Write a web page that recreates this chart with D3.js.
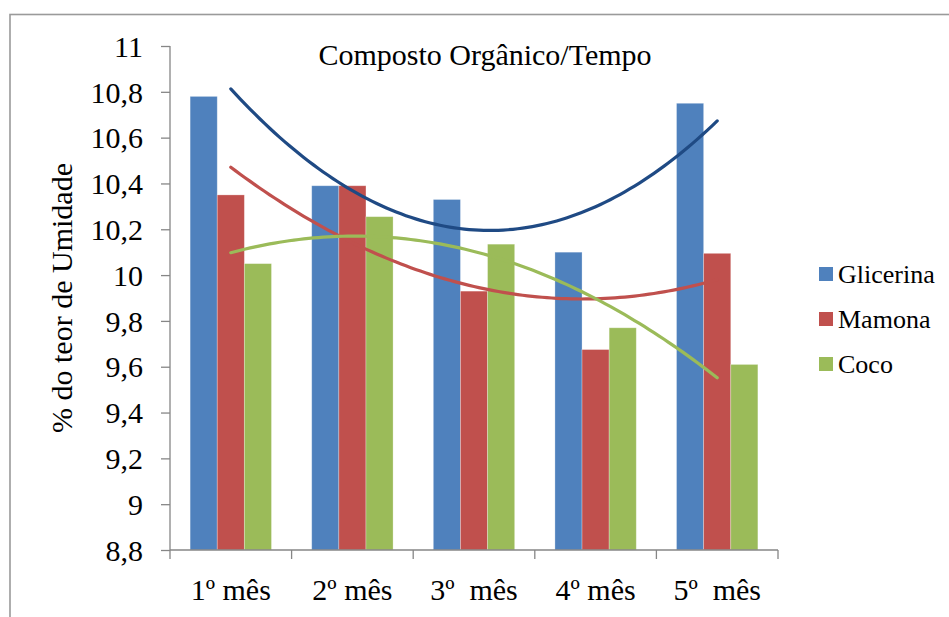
<!DOCTYPE html>
<html>
<head>
<meta charset="utf-8">
<script src="https://cdn.jsdelivr.net/npm/d3@7"></script>
<style>
  html, body { margin: 0; padding: 0; background: #fff; }
  svg { display: block; }
  svg text { font-family: 'Liberation Serif', Tinos, 'Times New Roman', 'DejaVu Serif', 'Noto Serif', serif !important; fill: #000; white-space: pre; }
</style>
</head>
<body>
<svg id="chart" width="949" height="617"></svg>
<script>
// ---- data ----
const categories = ["1º mês", "2º mês", "3º  mês", "4º mês", "5º  mês"];
const seriesNames = ["Glicerina", "Mamona", "Coco"];
const glicerina = [10.78, 10.39, 10.33, 10.10, 10.75];
const mamona = [10.35, 10.39, 9.93, 9.675, 10.095];
const coco = [10.05, 10.255, 10.135, 9.77, 9.61];
const yTicks = [8.8, 9, 9.2, 9.4, 9.6, 9.8, 10, 10.2, 10.4, 10.6, 10.8, 11];
const title = "Composto Orgânico/Tempo";
const yLabel = "% do teor de Umidade";

const seriesValues = [glicerina, mamona, coco];
const barColors = ["#4F81BD", "#C0504D", "#9BBB59"];
const trendColors = ["#1F4A84", "#C0504D", "#9BBB59"];
const FONT = "'Liberation Serif', Tinos, 'Times New Roman', 'DejaVu Serif', serif";

const svg = d3.select("#chart");

// outer frame
svg.append("rect")
  .attr("x", 10).attr("y", 14.5)
  .attr("width", 960).attr("height", 640)
  .attr("fill", "none").attr("stroke", "#9a9a9a").attr("stroke-width", 1.6);

const plot = { left: 170, right: 778, top: 46, bottom: 550 };

const x = d3.scaleBand().domain(categories)
  .range([plot.left, plot.right])
  .paddingInner(0.331).paddingOuter(0.1655);
const xs = d3.scaleBand().domain(seriesNames).range([0, x.bandwidth()]);
const y = d3.scaleLinear().domain([8.8, 11]).range([plot.bottom, plot.top]);

// bars
const rows = categories.map((c, i) => ({ c, vals: seriesValues.map(s => s[i]) }));
const groups = svg.append("g").selectAll("g").data(rows).join("g")
  .attr("transform", d => `translate(${x(d.c)},0)`);
groups.selectAll("rect")
  .data(d => d.vals.map((v, j) => ({ v, name: seriesNames[j], j })))
  .join("rect")
  .attr("x", d => xs(d.name))
  .attr("width", xs.bandwidth())
  .attr("y", d => y(d.v))
  .attr("height", d => y(8.8) - y(d.v))
  .attr("fill", d => barColors[d.j])
  .attr("stroke", "rgba(255,255,255,0.35)")
  .attr("stroke-width", 0.8);

// axes
const axisColor = "#868686";
const yAxis = svg.append("g").attr("transform", `translate(${plot.left},0)`)
  .call(d3.axisLeft(y).tickValues(yTicks).tickSize(9).tickPadding(18)
    .tickFormat(d => String(+d.toFixed(1)).replace(".", ",")));
yAxis.attr("font-family", FONT).attr("font-size", 30);
yAxis.select(".domain").attr("stroke", axisColor).attr("stroke-width", 1.3)
  .attr("d", `M0,${plot.bottom}V${plot.top}`);
yAxis.selectAll(".tick line").attr("stroke", axisColor).attr("stroke-width", 1.3);
yAxis.selectAll(".tick text")
  .attr("font-size", 30).attr("font-family", FONT).attr("fill", "#000")
  .attr("dy", "0.34em");

const xAxisG = svg.append("g");
xAxisG.append("line")
  .attr("x1", plot.left).attr("x2", plot.right)
  .attr("y1", plot.bottom).attr("y2", plot.bottom)
  .attr("stroke", axisColor).attr("stroke-width", 1.3);
const boundaries = d3.range(categories.length + 1).map(k => plot.left + k * x.step());
xAxisG.selectAll("line.tk").data(boundaries).join("line").attr("class", "tk")
  .attr("x1", d => d).attr("x2", d => d)
  .attr("y1", plot.bottom).attr("y2", plot.bottom + 9)
  .attr("stroke", axisColor).attr("stroke-width", 1.3);
xAxisG.selectAll("text").data(categories).join("text")
  .attr("x", d => x(d) + x.bandwidth() / 2)
  .attr("y", 600)
  .attr("text-anchor", "middle")
  .attr("font-family", FONT)
  .attr("font-size", 30)
  .text(d => d);

// polynomial (order 2) trendlines via least squares
function quadFit(ys) {
  const xsv = ys.map((_, i) => i + 1);
  let S = [0, 0, 0, 0, 0], T = [0, 0, 0];
  xsv.forEach((xv, i) => {
    for (let p = 0; p < 5; p++) S[p] += Math.pow(xv, p);
    for (let p = 0; p < 3; p++) T[p] += Math.pow(xv, p) * ys[i];
  });
  const A = [[S[0], S[1], S[2], T[0]], [S[1], S[2], S[3], T[1]], [S[2], S[3], S[4], T[2]]];
  for (let i = 0; i < 3; i++) {
    for (let k = i + 1; k < 3; k++) {
      const f = A[k][i] / A[i][i];
      for (let j = i; j < 4; j++) A[k][j] -= f * A[i][j];
    }
  }
  const c = [0, 0, 0];
  for (let i = 2; i >= 0; i--) {
    let s = A[i][3];
    for (let j = i + 1; j < 3; j++) s -= A[i][j] * c[j];
    c[i] = s / A[i][i];
  }
  return t => c[0] + c[1] * t + c[2] * t * t;
}
const xPos = t => x(categories[0]) + x.bandwidth() / 2 + (t - 1) * x.step();
const line = d3.line().x(d => xPos(d[0])).y(d => y(d[1])).curve(d3.curveLinear);
seriesValues.forEach((vals, j) => {
  const f = quadFit(vals);
  const pts = d3.range(0, 101).map(k => { const t = 1 + k * 0.04; return [t, f(t)]; });
  svg.append("path").datum(pts)
    .attr("d", line)
    .attr("fill", "none")
    .attr("stroke", trendColors[j])
    .attr("stroke-width", 3.2)
    .attr("stroke-linecap", "round");
});

// title
svg.append("text")
  .attr("x", 485).attr("y", 65)
  .attr("text-anchor", "middle")
  .attr("font-family", FONT)
  .attr("font-size", 30)
  .text(title);

// y label
svg.append("text")
  .attr("transform", "translate(72,298) rotate(-90)")
  .attr("text-anchor", "middle")
  .attr("font-family", FONT)
  .attr("font-size", 30)
  .text(yLabel);

// legend
const legend = svg.append("g");
seriesNames.forEach((name, j) => {
  const ly = 274 + j * 45;
  legend.append("rect")
    .attr("x", 819).attr("y", ly - 7)
    .attr("width", 14).attr("height", 14)
    .attr("fill", barColors[j]);
  legend.append("text")
    .attr("x", 838).attr("y", ly + 9)
    .attr("font-family", FONT)
    .attr("font-size", 26)
    .text(name);
});
</script>
</body>
</html>
